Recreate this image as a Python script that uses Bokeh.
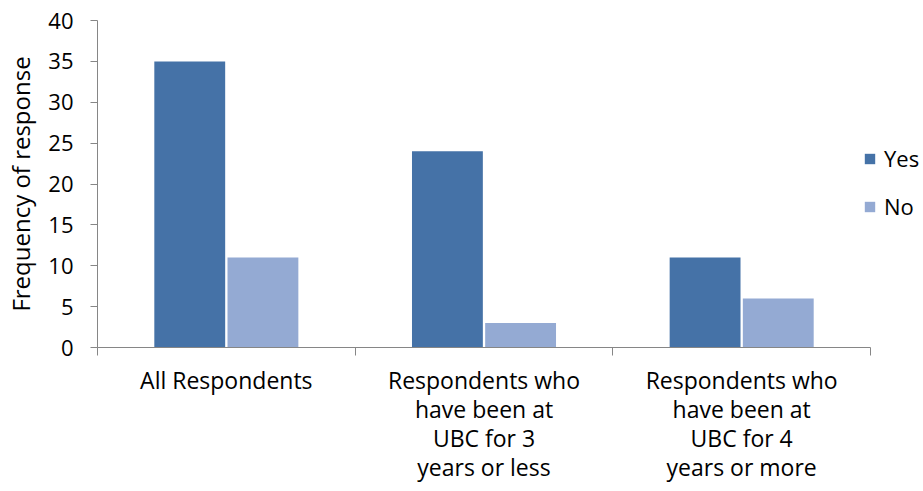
from bokeh.plotting import figure
from bokeh.models import Range1d, FixedTicker, Legend, LegendItem
from bokeh.embed import file_html
from bokeh.resources import INLINE

categories = ["All Respondents",
              "Respondents who\nhave been at\nUBC for 3\nyears or less",
              "Respondents who\nhave been at\nUBC for 4\nyears or more"]
yes_values = [35, 24, 11]
no_values = [11, 3, 6]
y_ticks = [0, 5, 10, 15, 20, 25, 30, 35, 40]

FONT = "Open Sans"
YES_COLOR = "#4572A7"
NO_COLOR = "#94AAD3"
AXIS_COLOR = "#868686"

n = len(categories)
centers = [i + 0.5 for i in range(n)]
bar_w = 0.275
off = 0.142

p = figure(frame_width=823, frame_height=327, output_backend="svg", toolbar_location=None,
           x_range=Range1d(0, 3.194), y_range=Range1d(0, 40),
           min_border_left=97, min_border_right=0, min_border_top=20, min_border_bottom=0)
p.outline_line_color = None
p.xgrid.visible = False
p.ygrid.visible = False

r_yes = p.vbar(x=[c - off for c in centers], top=yes_values, width=bar_w,
               fill_color=YES_COLOR, line_color=None)
r_no = p.vbar(x=[c + off for c in centers], top=no_values, width=bar_w,
              fill_color=NO_COLOR, line_color=None)

# x axis
xa = p.xaxis[0]
xa.bounds = (0, n)
xa.ticker = FixedTicker(ticks=centers, minor_ticks=list(range(n + 1)))
xa.major_label_overrides = {c: lab for c, lab in zip(centers, categories)}
xa.major_tick_out = 0
xa.major_tick_in = 0
xa.minor_tick_out = 8
xa.minor_tick_in = 0
xa.minor_tick_line_color = AXIS_COLOR
xa.axis_line_color = AXIS_COLOR
xa.major_label_text_font = FONT
xa.major_label_text_font_size = "23px"
xa.major_label_text_color = "#000000"
xa.major_label_text_line_height = 0.91
xa.major_label_standoff = 8

# y axis
ya = p.yaxis[0]
ya.ticker = FixedTicker(ticks=y_ticks)
ya.major_tick_out = 7
ya.major_tick_in = 0
ya.minor_tick_line_color = None
ya.major_tick_line_color = AXIS_COLOR
ya.axis_line_color = AXIS_COLOR
ya.major_label_text_font = FONT
ya.major_label_text_font_size = "22px"
ya.major_label_text_color = "#000000"
ya.major_label_standoff = 17
ya.axis_label = "Frequency of response"
ya.axis_label_text_font = FONT
ya.axis_label_text_font_size = "24px"
ya.axis_label_text_font_style = "normal"
ya.axis_label_text_color = "#000000"
ya.axis_label_standoff = 8

legend = Legend(items=[LegendItem(label="Yes", renderers=[r_yes]),
                       LegendItem(label="No", renderers=[r_no])],
                location=(766, 126), orientation="vertical")
legend.border_line_color = None
legend.background_fill_alpha = 0
legend.padding = 0
legend.margin = 0
legend.spacing = 18
legend.glyph_width = 13
legend.glyph_height = 13
legend.label_height = 24
legend.label_standoff = 8
legend.label_text_font = FONT
legend.label_text_font_size = "22px"
legend.label_text_color = "#000000"
p.add_layout(legend)

open("out.html", "w").write(file_html(p, INLINE))
